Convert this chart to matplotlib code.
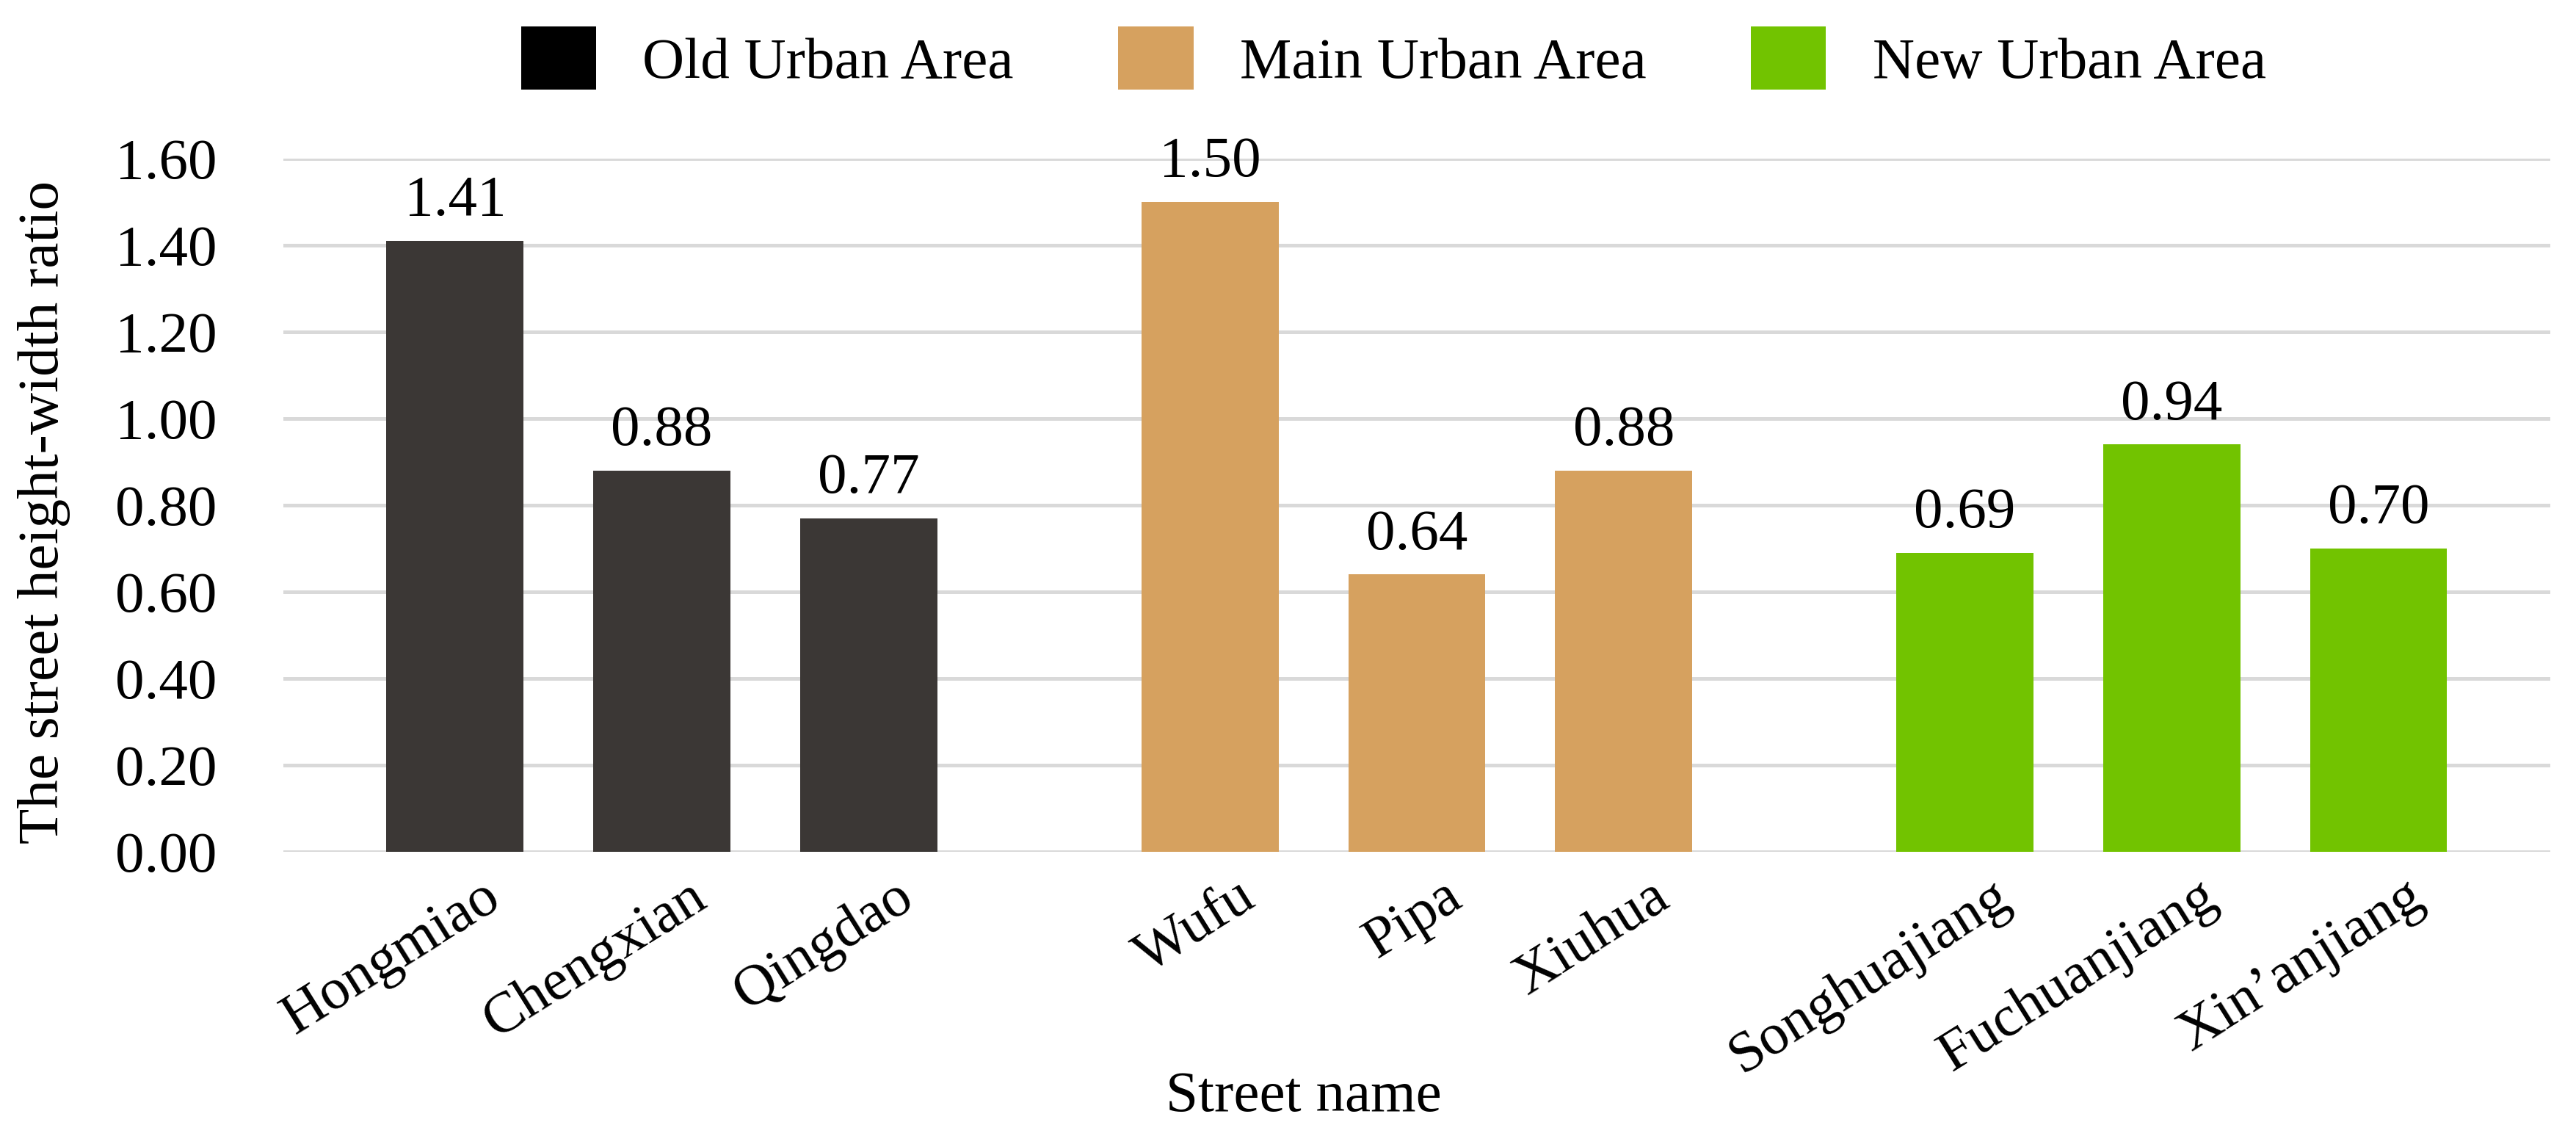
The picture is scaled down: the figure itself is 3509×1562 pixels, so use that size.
import matplotlib.pyplot as plt
import matplotlib.transforms as mtransforms
from matplotlib.patches import Patch

plt.rcParams["font.family"] = ["Liberation Serif", "DejaVu Serif"]

# * Data
streets = ["Hongmiao", "Chengxian", "Qingdao",
           "Wufu", "Pipa", "Xiuhua",
           "Songhuajiang", "Fuchuanjiang", "Xin\u2019anjiang"]
ratios = [1.41, 0.88, 0.77, 1.50, 0.64, 0.88, 0.69, 0.94, 0.70]
areas = ["Old Urban Area", "Main Urban Area", "New Urban Area"]
group_sizes = [3, 3, 3]
bar_colors = ["#3b3735", "#d6a15f", "#72c300"]
legend_colors = ["#000000", "#d6a15f", "#72c300"]
yticks = [0.0, 0.2, 0.4, 0.6, 0.8, 1.0, 1.2, 1.4, 1.6]

# * Positions: 1 unit between bars, extra gap between groups
group_gap = 0.65
xs, colors = [], []
pos = 0.0
for g, n in enumerate(group_sizes):
    for i in range(n):
        xs.append(pos)
        colors.append(bar_colors[g])
        pos += 1
    pos += group_gap

FS = 57

fig = plt.figure(figsize=(35.09, 15.62), dpi=100)
ax = fig.add_axes([0.110, 0.2574, 0.880, 0.6043])

bars = ax.bar(xs, ratios, width=0.663, color=colors, zorder=3)

for b, v in zip(bars, ratios):
    ax.annotate(f"{v:.2f}", (b.get_x() + b.get_width() / 2, v),
                xytext=(0, 25), textcoords="offset points",
                ha="center", va="baseline", fontsize=FS)

ax.set_xlim(xs[0] - 0.83, xs[-1] + 0.83)
ax.set_ylim(0, 1.6)
ax.set_yticks(yticks)
ax.set_yticklabels([f"{t:.2f}" for t in yticks])
ax.yaxis.grid(True, color="#d9d9d9", linewidth=3.6, zorder=0)
ax.set_axisbelow(True)

for s in ax.spines.values():
    s.set_visible(False)

ax.tick_params(axis="y", length=0, pad=65, labelsize=FS)
ax.tick_params(axis="x", length=0, pad=40, labelsize=FS)
ax.set_xticks(xs)
ax.set_xticklabels(streets, rotation=32, ha="right", va="center",
                   rotation_mode="anchor")
# nudge labels so their ends sit a bit right of the bar centre
shift = mtransforms.ScaledTranslation(0.55, 0, fig.dpi_scale_trans)
for lab in ax.get_xticklabels():
    lab.set_transform(lab.get_transform() + shift)

ax.set_ylabel("The street height-width ratio", fontsize=FS)
ax.yaxis.set_label_coords(-0.094, 0.49)
ax.set_xlabel("Street name", fontsize=FS)
ax.xaxis.set_label_coords(0.45, -0.316)

handles = [Patch(facecolor=c, edgecolor="none") for c in legend_colors]
fig.legend(handles, areas, loc="center", bbox_to_anchor=(0.541, 0.949),
           ncol=3, frameon=False, fontsize=FS,
           handlelength=1.29, handleheight=1.29,
           handletextpad=0.8, columnspacing=1.8)

fig.savefig("out.png", dpi=100)
